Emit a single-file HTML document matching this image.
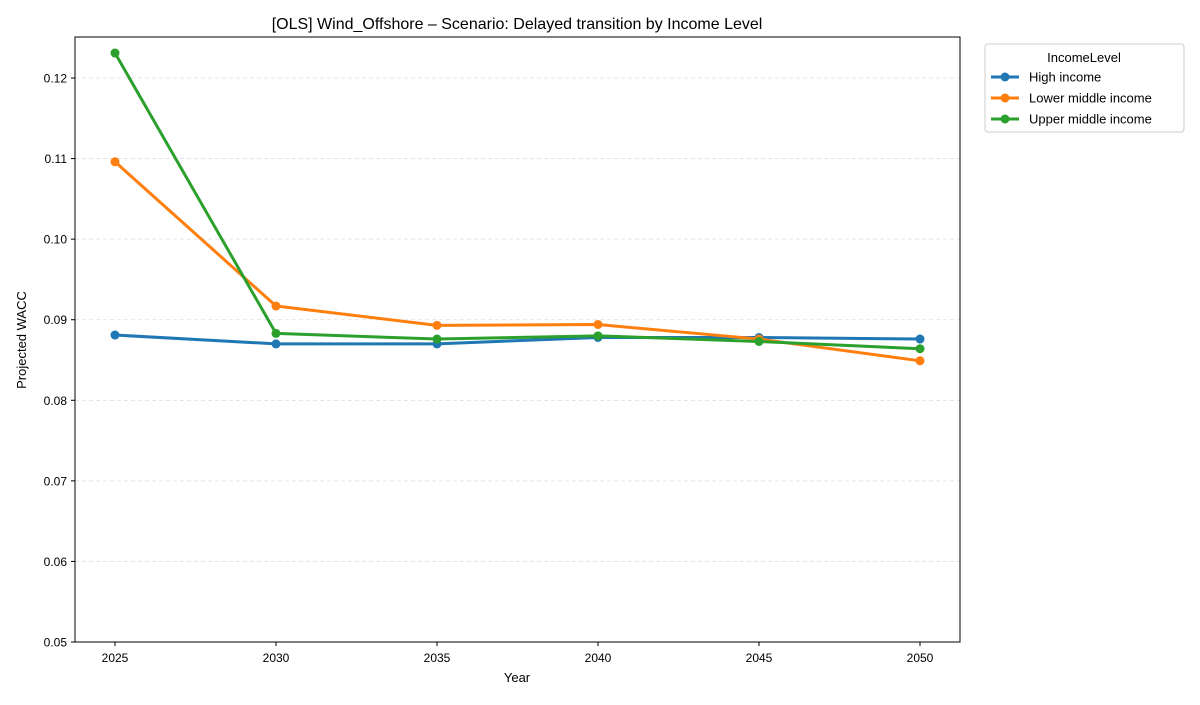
<!DOCTYPE html>
<html><head><meta charset="utf-8"><style>
body{margin:0;background:#fff;}
svg{font-family:"Liberation Sans","DejaVu Sans",sans-serif;}
</style></head><body>
<svg id="chart" width="1200" height="700" xmlns="http://www.w3.org/2000/svg">
<rect width="1200" height="700" fill="#fff"/>
<text x="517" y="29" font-size="16" text-anchor="middle" fill="#000">[OLS] Wind_Offshore – Scenario: Delayed transition by Income Level</text>
<g id="grid"></g>
<g id="axes"></g>
<g id="series"></g>
<rect x="75" y="37" width="885" height="605" fill="none" stroke="#000" stroke-width="1"/>
<text x="517" y="682" font-size="13" text-anchor="middle">Year</text>
<text transform="translate(26,340) rotate(-90)" font-size="13" text-anchor="middle">Projected WACC</text>
<g>
<rect x="985" y="44" width="199" height="88" rx="3" fill="#fff" stroke="#ccc"/>
<text x="1084" y="62" font-size="13" text-anchor="middle">IncomeLevel</text>
<g id="legend-items"></g>
</g>
</svg>
<script>
const years=[2025,2030,2035,2040,2045,2050];
const seriesNames=["High income","Lower middle income","Upper middle income"];
const highIncome=[0.0881,0.0870,0.0870,0.0878,0.0878,0.0876];
const lowerMiddle=[0.1096,0.0917,0.0893,0.0894,0.0876,0.0849];
const upperMiddle=[0.1231,0.0883,0.0876,0.0880,0.0873,0.0864];
const yTicks=[0.05,0.06,0.07,0.08,0.09,0.10,0.11,0.12];
const yTickLabels=["0.05","0.06","0.07","0.08","0.09","0.10","0.11","0.12"];
const colors=["#1f77b4","#ff7f0e","#2ca02c"];
const NS="http://www.w3.org/2000/svg";
const xS=v=>115+(v-2025)*(805/25);
const yS=v=>642-(v-0.05)*8057;
function mk(t,a,p){const e=document.createElementNS(NS,t);for(const k in a)e.setAttribute(k,a[k]);p.appendChild(e);return e;}
const grid=document.getElementById('grid'),axes=document.getElementById('axes'),ser=document.getElementById('series'),leg=document.getElementById('legend-items');
yTicks.forEach((v,i)=>{const y=yS(v);
 if(i>0){const g=mk('line',{x1:75,x2:960,y1:y,y2:y,stroke:'#ddd','stroke-dasharray':'4,3','stroke-width':0.8},grid);
 
 }
 mk('line',{x1:71,x2:75,y1:y,y2:y,stroke:'#000'},axes);
 const t=mk('text',{x:67,y:y+4.5,'font-size':12,'text-anchor':'end'},axes);t.textContent=yTickLabels[i];
 
 
});
years.forEach(v=>{const x=xS(v);
 mk('line',{x1:x,x2:x,y1:642,y2:646,stroke:'#000'},axes);
 const t=mk('text',{x:x,y:662,'font-size':12,'text-anchor':'middle'},axes);t.textContent=v;
 
 
});
[highIncome,lowerMiddle,upperMiddle].forEach((d,si)=>{
 const g=mk('g',{},ser);
 
 
 mk('polyline',{points:d.map((v,i)=>xS(years[i])+','+yS(v)).join(' '),fill:'none',stroke:colors[si],'stroke-width':3,'stroke-linejoin':'round'},g);
 d.forEach((v,i)=>{const c=mk('circle',{cx:xS(years[i]),cy:yS(v),r:4.5,fill:colors[si]},g);
  
  });
 const ly=77+si*21;
 const lg=mk('g',{},leg);
 
 
 mk('line',{x1:991,x2:1019,y1:ly,y2:ly,stroke:colors[si],'stroke-width':3},lg);
 mk('circle',{cx:1005,cy:ly,r:4.5,fill:colors[si]},lg);
 const t=mk('text',{x:1029,y:ly+4.5,'font-size':13},lg);t.textContent=seriesNames[si];
});
</script>
</body></html>
